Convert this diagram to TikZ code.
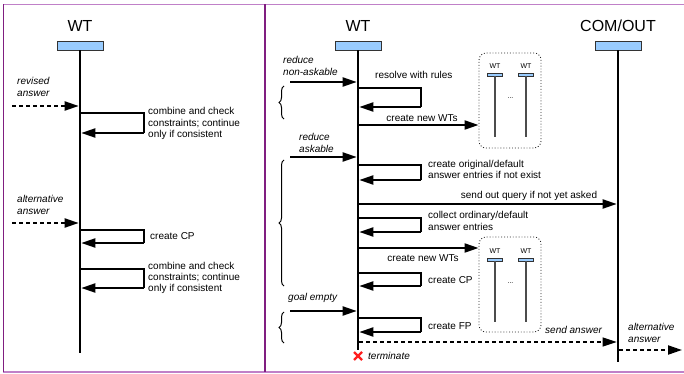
\documentclass[tikz,border=0pt]{standalone}
\usepackage{fontspec}
\setmainfont{Liberation Sans}
\usetikzlibrary{arrows.meta,decorations.pathreplacing,calc}
\definecolor{headblue}{RGB}{153,204,255}
\definecolor{framel}{RGB}{192,128,200}
\definecolor{framed}{RGB}{128,30,128}
\definecolor{xred}{RGB}{255,30,30}
\begin{document}
\begin{tikzpicture}[x=1pt,y=-1pt,
  lbl/.style={font=\fontsize{10}{11.2}\selectfont, inner sep=0pt, anchor=west, align=left},
  ilbl/.style={lbl, font=\fontsize{10}{11.2}\selectfont\itshape},
  ttl/.style={font=\fontsize{16}{18}\selectfont, inner sep=0pt},
  mttl/.style={font=\fontsize{7}{8}\selectfont, inner sep=0pt},
  head/.style={draw=black!80, fill=headblue, line width=0.8pt, minimum width=46pt, minimum height=9pt, inner sep=0pt},
  mhead/.style={draw=black!80, fill=headblue, line width=0.6pt, minimum width=15pt, minimum height=3pt, inner sep=0pt},
  life/.style={line width=2.6pt},
  mlife/.style={line width=1.4pt, draw=black!70},
  msg/.style={line width=2pt, -{Triangle[length=14pt,width=9pt]}},
  dmsg/.style={msg, dash pattern=on 4pt off 3pt},
  tdmsg/.style={line width=1.2pt, dash pattern=on 4pt off 3pt, -{Triangle[length=14pt,width=9pt]}},
  loopl/.style={line width=1.1pt},
  grp/.style={draw=black!85, line width=0.9pt, dotted, rounded corners=7pt},
  brc/.style={line width=1pt, decorate, decoration={brace, amplitude=5pt}}
]
\useasboundingbox (0,0) rectangle (684,374);
% frame
\draw[framel, line width=1.5pt] (3,4.5) -- (684,4.5);
\draw[framel, line width=1.5pt] (3,372) -- (684,372);
\draw[framed, line width=1.3pt] (3.8,4.5) -- (3.8,372);
\draw[framed, line width=1.3pt] (265,4.5) -- (265,372);

% ---------- left panel ----------
\node[ttl] (t1) at (80,26) {WT};
\node[head] (h1) at (80,45.5) {};
\coordinate (e1) at (80,353);
\draw[life] (h1.south) -- (e1);

\node[ilbl] (ra) at (17,87) {revised\\answer};
\coordinate (ra0) at (12,106);
\coordinate (ra1) at (78.7,106);
\draw[dmsg] (ra0) -- (ra1);

\coordinate (c1a) at (81,113);
\coordinate (c1b) at (81.3,133);
\draw[loopl] (c1a) -- (144,113) -- (144,133);
\draw[msg] (144,133) -- (c1b);
\node[lbl] (c1t) at (148,123.5) {combine and check\\constraints; continue\\only if consistent};

\node[ilbl] (aa) at (17,205) {alternative\\answer};
\coordinate (aa0) at (12,223);
\coordinate (aa1) at (78.7,223);
\draw[dmsg] (aa0) -- (aa1);

\coordinate (c2a) at (81,230);
\coordinate (c2b) at (81.3,243);
\draw[loopl] (c2a) -- (144,230) -- (144,243);
\draw[msg] (144,243) -- (c2b);
\node[lbl] (c2t) at (150,236) {create CP};

\coordinate (c3a) at (81,269);
\coordinate (c3b) at (81.3,288);
\draw[loopl] (c3a) -- (144,269) -- (144,288);
\draw[msg] (144,288) -- (c3b);
\node[lbl] (c3t) at (148,278) {combine and check\\constraints; continue\\only if consistent};

% ---------- right panel ----------
\node[ttl] (t2) at (358,26) {WT};
\node[head] (h2) at (358,45.5) {};
\coordinate (e2) at (358,350);
\draw[life] (h2.south) -- (e2);

\node[ttl] (t3) at (618,26) {COM/OUT};
\node[head] (h3) at (618,45.5) {};
\coordinate (e3) at (618,362);
\draw[life] (h3.south) -- (e3);

% reduce non-askable
\node[ilbl] (rn) at (283,66) {reduce\\non-askable};
\coordinate (rn0) at (290,82);
\coordinate (rn1) at (356.7,82);
\draw[msg] (rn0) -- (rn1);
\draw[brc] (284,119) -- (284,86);

\coordinate (r1a) at (359,88);
\coordinate (r1b) at (359.3,107);
\draw[loopl] (r1a) -- (421,88) -- (421,107);
\draw[msg] (421,107) -- (r1b);
\node[lbl] (r1t) at (375,75) {resolve with rules};

% group 1
\node[grp, minimum width=62pt, minimum height=95pt, inner sep=0pt] (g1) at (510,100.5) {};
\coordinate (nw1) at (359,125);
\draw[msg] (nw1) -- (g1.west |- nw1);
\node[lbl, anchor=center] (nw1t) at (422,118) {create new WTs};
\node[mttl] (g1at) at (495,66.5) {WT};
\node[mhead] (g1ah) at (495,74.5) {};
\coordinate (g1ae) at (495,137);
\draw[mlife] (g1ah.south) -- (g1ae);
\node[mttl] (g1bt) at (526,66.5) {WT};
\node[mhead] (g1bh) at (526,74.5) {};
\coordinate (g1be) at (526,137);
\draw[mlife] (g1bh.south) -- (g1be);
\node[mttl] (g1d) at (510.5,98) {...};

% reduce askable
\node[ilbl] (rk) at (299,143) {reduce\\askable};
\coordinate (rk0) at (290,157);
\coordinate (rk1) at (356.7,157);
\draw[msg] (rk0) -- (rk1);
\draw[brc] (284,286) -- (284,160);

\coordinate (r2a) at (359,165);
\coordinate (r2b) at (359.3,180);
\draw[loopl] (r2a) -- (421,165) -- (421,180);
\draw[msg] (421,180) -- (r2b);
\node[lbl] (r2t) at (428,169.5) {create original/default\\answer entries if not exist};

\coordinate (sq0) at (359,204);
\coordinate (sq1) at (616.7,204);
\draw[msg] (sq0) -- (sq1);
\node[lbl, anchor=center] (sqt) at (529,196) {send out query if not yet asked};

\coordinate (r3a) at (359,218);
\coordinate (r3b) at (359.3,232);
\draw[loopl] (r3a) -- (421,218) -- (421,232);
\draw[msg] (421,232) -- (r3b);
\node[lbl] (r3t) at (428,221) {collect ordinary/default\\answer entries};

% group 2
\node[grp, minimum width=62pt, minimum height=95pt, inner sep=0pt] (g2) at (510,284.5) {};
\coordinate (nw2) at (359,248);
\draw[msg] (nw2) -- (g2.west |- nw2);
\node[lbl, anchor=center] (nw2t) at (423,258) {create new WTs};
\node[mttl] (g2at) at (495,251.5) {WT};
\node[mhead] (g2ah) at (495,259.5) {};
\coordinate (g2ae) at (495,322);
\draw[mlife] (g2ah.south) -- (g2ae);
\node[mttl] (g2bt) at (526,251.5) {WT};
\node[mhead] (g2bh) at (526,259.5) {};
\coordinate (g2be) at (526,322);
\draw[mlife] (g2bh.south) -- (g2be);
\node[mttl] (g2d) at (510.5,283) {...};

\coordinate (r4a) at (359,273);
\coordinate (r4b) at (359.3,286);
\draw[loopl] (r4a) -- (421,273) -- (421,286);
\draw[msg] (421,286) -- (r4b);
\node[lbl] (r4t) at (428,280) {create CP};

% goal empty
\node[ilbl] (ge) at (288,298) {goal empty};
\coordinate (ge0) at (290,311);
\coordinate (ge1) at (356.7,311);
\draw[msg] (ge0) -- (ge1);
\draw[brc] (284,343) -- (284,312);

\coordinate (r5a) at (359,318);
\coordinate (r5b) at (359.3,332);
\draw[loopl] (r5a) -- (421,318) -- (421,332);
\draw[msg] (421,332) -- (r5b);
\node[lbl] (r5t) at (428,326) {create FP};

\coordinate (sa0) at (359,342);
\coordinate (sa1) at (616.7,342);
\draw[tdmsg] (sa0) -- (sa1);
\node[ilbl] (sat) at (545,330) {send answer};

% terminate
\coordinate (tx) at (358,356);
\draw[xred, line width=2.2pt] ($(tx)+(-4,-4)$) -- ($(tx)+(4,4)$);
\draw[xred, line width=2.2pt] ($(tx)+(-4,4)$) -- ($(tx)+(4,-4)$);
\node[ilbl] (tt) at (368,356) {terminate};

% alternative answer out
\node[ilbl] (ao) at (628,333) {alternative\\answer};
\coordinate (ao0) at (619.3,350);
\coordinate (ao1) at (682,350);
\draw[dmsg] (ao0) -- (ao1);
\end{tikzpicture}
\end{document}
